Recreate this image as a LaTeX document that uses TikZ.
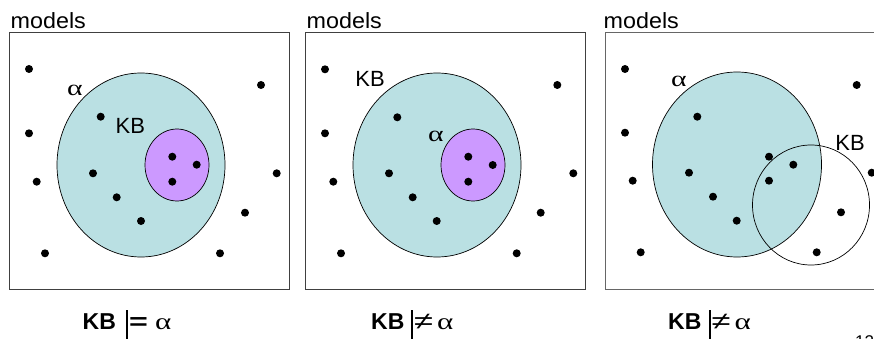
\documentclass[tikz,border=0pt]{standalone}
\usepackage{graphicx}
\usepackage{fontspec}
\setmainfont{Liberation Sans}
\newfontfamily\grk{Liberation Serif}
\definecolor{tealfill}{RGB}{186,224,227}
\definecolor{purplefill}{RGB}{204,153,255}
\newcommand{\galpha}{{\mdseries\grk\scalebox{1.35}[1]{α}}}
\newcommand{\entbar}{\rule[-13pt]{1.8pt}{32pt}}
\begin{document}
\begin{tikzpicture}[x=1pt,y=-1pt,
  box/.style={draw=black!75,line width=1pt},
  setline/.style={draw=black,line width=0.7pt},
  lbl/.style={inner sep=0pt,font=\fontsize{22}{26}\selectfont},
  glbl/.style={inner sep=0pt,font=\fontsize{22}{26}\selectfont},
  captext/.style={inner sep=0pt,anchor=base west,font=\fontsize{23}{27}\selectfont\bfseries}]
\useasboundingbox (0,0) rectangle (874,339);
\clip (0,0) rectangle (874,339);
% boxes
\draw[box] (9,33) rectangle (289,289);
\draw[box] (305,33) rectangle (585,289);
\draw[box,draw=black!60] (605,33) rectangle (890,289);
% box 1
\draw[setline,fill=tealfill] (141,165) ellipse [x radius=84pt,y radius=92pt];
\draw[setline,fill=purplefill] (177,165) ellipse [x radius=32pt,y radius=36pt];
% box 2
\draw[setline,fill=tealfill] (437,165) ellipse [x radius=84pt,y radius=92pt];
\draw[setline,fill=purplefill] (473,165) ellipse [x radius=32pt,y radius=36pt];
% box 3
\draw[setline,fill=tealfill] (737,164.5) ellipse [x radius=84.5pt,y radius=92.5pt];
\draw[setline] (811,205) ellipse [x radius=58.5pt,y radius=60pt];
% dots
\foreach \p in {(29,69),(261,85),(100.7,116.7),(29,133.3),(172.3,156.7),(196.7,164.7),(172.3,181.7),(93,173.3),(36.7,181.7),(276.7,173.3),(116.7,197.3),(245,212.7),(141,221),(45,253.3),(220,253.3),
  (325,69.3),(557.3,85),(397.3,117.3),(325,133.3),(468.3,156.7),(492.7,165),(468.3,181.7),(389,173.3),(333.3,181.7),(573.3,173.3),(412.7,197.3),(540.7,212.7),(436.7,221),(341,253.3),(516.7,253.3),
  (625,69),(856.7,85),(697.3,116.7),(625,132.7),(769,156.7),(793.3,164.7),(769,180.7),(689,172.7),(632.7,180.7),(871.7,172.7),(713,196.7),(841,212.3),(736.7,220.7),(640.7,252.3),(816.7,252.3)}
  \fill \p circle (4pt);
% texts
\node[lbl,anchor=base west] (m1) at (10.5,28.3) {\scalebox{1.06}[1]{models}};
\node[lbl,anchor=base west] (m2) at (306.5,28.3) {\scalebox{1.06}[1]{models}};
\node[lbl,anchor=base west] (m3) at (603.5,28.3) {\scalebox{1.06}[1]{models}};
\node[glbl] (a1) at (75,90) {\galpha};
\node[lbl] (k1) at (130.3,126.2) {KB};
\node[lbl] (k2) at (370,79) {KB};
\node[glbl] (a2) at (436,136) {\galpha};
\node[glbl] (a3) at (679,81) {\galpha};
\node[lbl] (k3) at (850,143.3) {KB};
\node[captext] (c1) at (82.5,329) {KB\hspace{10pt}\entbar\hspace{1.5pt}\scalebox{1.4}[1]{=}\hspace{7pt}\galpha};
\node[captext] (c2) at (371,329) {KB\hspace{7pt}\entbar\hspace{1pt}{\mdseries\scalebox{1.5}[1.05]{≠}}\hspace{4pt}\galpha};
\node[captext] (c3) at (668,329) {KB\hspace{7.5pt}\entbar\hspace{1pt}{\mdseries\scalebox{1.5}[1.05]{≠}}\hspace{4pt}\galpha};
\node[inner sep=0pt,anchor=base west,font=\fontsize{17}{20}\selectfont] (pg) at (855,347) {12};
\end{tikzpicture}
\end{document}
